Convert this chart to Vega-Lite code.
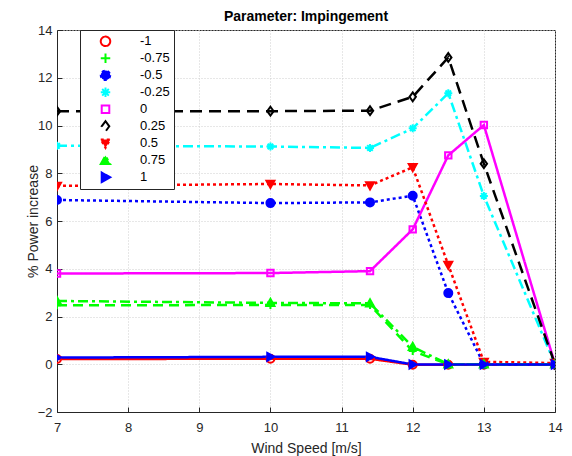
{
  "$schema": "https://vega.github.io/schema/vega-lite/v6.json",
  "width": 498,
  "height": 382,
  "autosize": {"type": "none"},
  "padding": {"left": 57, "top": 30, "right": 17, "bottom": 44},
  "background": "white",
  "title": {"text": "Parameter: Impingement", "fontSize": 14, "fontWeight": "bold", "font": "Liberation Sans", "color": "#000000", "offset": 0},
  "config": {
    "font": "Liberation Sans",
    "view": {"stroke": "#262626", "strokeWidth": 1},
    "axis": {
      "labelFont": "Liberation Sans", "labelFontSize": 13, "labelColor": "#262626",
      "titleFont": "Liberation Sans", "titleFontSize": 14, "titleFontWeight": "normal", "titleColor": "#262626",
      "domainColor": "#262626", "tickColor": "#262626",
      "gridColor": "#cfcfcf", "gridDash": [1, 2], "gridOpacity": 1, "gridWidth": 1,
      "labelOverlap": false, "labelFlush": false
    }
  },
  "data": {"values": [
    {"s": "-1", "m": "-1", "x": 7, "y": 0.22}, {"s": "-1", "m": "-1", "x": 10, "y": 0.23}, {"s": "-1", "m": "-1", "x": 11.4, "y": 0.23}, {"s": "-1", "m": "-1", "x": 12, "y": -0.02}, {"s": "-1", "m": "-1", "x": 12.5, "y": -0.02}, {"s": "-1", "m": "-1", "x": 13, "y": -0.02}, {"s": "-1", "m": "-1", "x": 14, "y": -0.02},
    {"s": "-0.75", "m": "-0.75", "x": 7, "y": 2.47}, {"s": "-0.75", "m": "-0.75", "x": 10, "y": 2.48}, {"s": "-0.75", "m": "-0.75", "x": 11.4, "y": 2.48}, {"s": "-0.75", "m": "-0.75", "x": 12, "y": 0.55}, {"s": "-0.75", "m": "-0.75", "x": 12.5, "y": 0}, {"s": "-0.75", "m": "-0.75", "x": 13, "y": 0}, {"s": "-0.75", "m": "-0.75", "x": 14, "y": 0},
    {"s": "-0.5", "m": "-0.5", "x": 7, "y": 6.88}, {"s": "-0.5", "m": "-0.5", "x": 10, "y": 6.75}, {"s": "-0.5", "m": "-0.5", "x": 11.4, "y": 6.78}, {"s": "-0.5", "m": "-0.5", "x": 12, "y": 7.06}, {"s": "-0.5", "m": "-0.5", "x": 12.5, "y": 2.98}, {"s": "-0.5", "m": "-0.5", "x": 13, "y": 0}, {"s": "-0.5", "m": "-0.5", "x": 14, "y": -0.02},
    {"s": "-0.25", "m": "-0.25", "x": 7, "y": 9.15}, {"s": "-0.25", "m": "-0.25", "x": 10, "y": 9.12}, {"s": "-0.25", "m": "-0.25", "x": 11.4, "y": 9.06}, {"s": "-0.25", "m": "-0.25", "x": 12, "y": 9.88}, {"s": "-0.25", "m": "-0.25", "x": 12.5, "y": 11.35}, {"s": "-0.25", "m": "-0.25", "x": 13, "y": 7.05}, {"s": "-0.25", "m": "-0.25", "x": 14, "y": 0},
    {"s": "0", "m": "0", "x": 7, "y": 3.8}, {"s": "0", "m": "0", "x": 10, "y": 3.82}, {"s": "0", "m": "0", "x": 11.4, "y": 3.9}, {"s": "0", "m": "0", "x": 12, "y": 5.65}, {"s": "0", "m": "0", "x": 12.5, "y": 8.75}, {"s": "0", "m": "0", "x": 13, "y": 10.02}, {"s": "0", "m": "0", "x": 14, "y": 0},
    {"s": "0.25", "m": "0.25", "x": 7, "y": 10.6}, {"s": "0.25", "m": "0.25", "x": 10, "y": 10.6}, {"s": "0.25", "m": "0.25", "x": 11.4, "y": 10.62}, {"s": "0.25", "m": "0.25", "x": 12, "y": 11.2}, {"s": "0.25", "m": "0.25", "x": 12.5, "y": 12.85}, {"s": "0.25", "m": "0.25", "x": 13, "y": 8.4}, {"s": "0.25", "m": "0.25", "x": 14, "y": 0},
    {"s": "0.5", "m": "0.5", "x": 7, "y": 7.47}, {"s": "0.5", "m": "0.5", "x": 10, "y": 7.55}, {"s": "0.5", "m": "0.5", "x": 11.4, "y": 7.49}, {"s": "0.5", "m": "0.5", "x": 12, "y": 8.25}, {"s": "0.5", "m": "0.5", "x": 12.5, "y": 4.16}, {"s": "0.5", "m": "0.5", "x": 13, "y": 0.1}, {"s": "0.5", "m": "0.5", "x": 14, "y": 0.05},
    {"s": "0.75", "m": "0.75", "x": 7, "y": 2.65}, {"s": "0.75", "m": "0.75", "x": 10, "y": 2.57}, {"s": "0.75", "m": "0.75", "x": 11.4, "y": 2.55}, {"s": "0.75", "m": "0.75", "x": 12, "y": 0.73}, {"s": "0.75", "m": "0.75", "x": 12.5, "y": 0}, {"s": "0.75", "m": "0.75", "x": 13, "y": 0}, {"s": "0.75", "m": "0.75", "x": 14, "y": 0},
    {"s": "1", "m": "1", "x": 7, "y": 0.28}, {"s": "1", "m": "1", "x": 10, "y": 0.31}, {"s": "1", "m": "1", "x": 11.4, "y": 0.31}, {"s": "1", "m": "1", "x": 12, "y": -0.01}, {"s": "1", "m": "1", "x": 12.5, "y": -0.01}, {"s": "1", "m": "1", "x": 13, "y": -0.01}, {"s": "1", "m": "1", "x": 14, "y": -0.01}
  ]},
  "encoding": {
    "x": {"field": "x", "type": "quantitative", "scale": {"domain": [7, 14], "nice": false, "zero": false},
      "axis": {"title": "Wind Speed [m/s]", "values": [7,8,9,10,11,12,13,14],
        "labelExpr": "format(datum.value, 'd')",
        "tickSize": -5, "labelPadding": 14, "titlePadding": 7}},
    "y": {"field": "y", "type": "quantitative", "scale": {"domain": [-2, 14], "nice": false, "zero": false},
      "axis": {"title": "% Power increase", "values": [-2,0,2,4,6,8,10,12,14],
        "tickSize": -5, "labelPadding": 10, "titlePadding": -3}},
    "color": {"field": "s", "type": "nominal",
      "scale": {"domain": ["-1","-0.75","-0.5","-0.25","0","0.25","0.5","0.75","1"],
        "range": ["#ff0000","#00ff00","#0000ff","#00ffff","#ff00ff","#000000","#ff0000","#00ff00","#0000ff"]},
      "legend": {"title": null, "orient": "none", "legendX": 23, "legendY": 0, "padding": 4,
        "strokeColor": "#262626", "fillColor": "white", "symbolSize": 90, "clipHeight": 14.6, "rowPadding": 2,
        "symbolStrokeWidth": 2, "symbolOffset": 15, "labelFontSize": 13, "labelFont": "Liberation Sans", "labelColor": "#000000", "labelOffset": 28}}
  },
  "layer": [
    {
      "mark": {"type": "line", "strokeWidth": 2.5, "clip": true},
      "encoding": {
        "strokeDash": {"field": "s", "type": "nominal",
          "scale": {"domain": ["-1","-0.75","-0.5","-0.25","0","0.25","0.5","0.75","1"],
            "range": [[1,0],[10,6],[3,3],[10,4,3,4],[1,0],[12,7],[3,3],[10,4,3,4],[1,0]]}}
      }
    },
    {
      "mark": {"type": "point", "filled": false, "strokeWidth": 2, "size": 64, "opacity": 1, "clip": true},
      "encoding": {
        "shape": {"field": "m", "type": "nominal", "legend": null,
          "scale": {"domain": ["-1","-0.75","-0.5","-0.25","0","0.25","0.5","0.75","1"],
            "range": ["circle","M-1,0H1M0,-1V1","circle","M-1,0H1M0,-1V1M-0.7,-0.7L0.7,0.7M-0.7,0.7L0.7,-0.7","M-0.8,-0.8H0.8V0.8H-0.8Z","M0,-1.1L0.8,0L0,1.1L-0.8,0Z","M-1,-0.8H1L0,1Z","M-1,0.8H1L0,-1Z","M-0.8,-1L1,0L-0.8,1Z"]}},
        "fill": {"field": "s", "type": "nominal",
          "scale": {"domain": ["-1","-0.75","-0.5","-0.25","0","0.25","0.5","0.75","1"],
            "range": ["transparent","transparent","#0000ff","transparent","transparent","transparent","#ff0000","#00ff00","#0000ff"]}}
      }
    }
  ]
}
